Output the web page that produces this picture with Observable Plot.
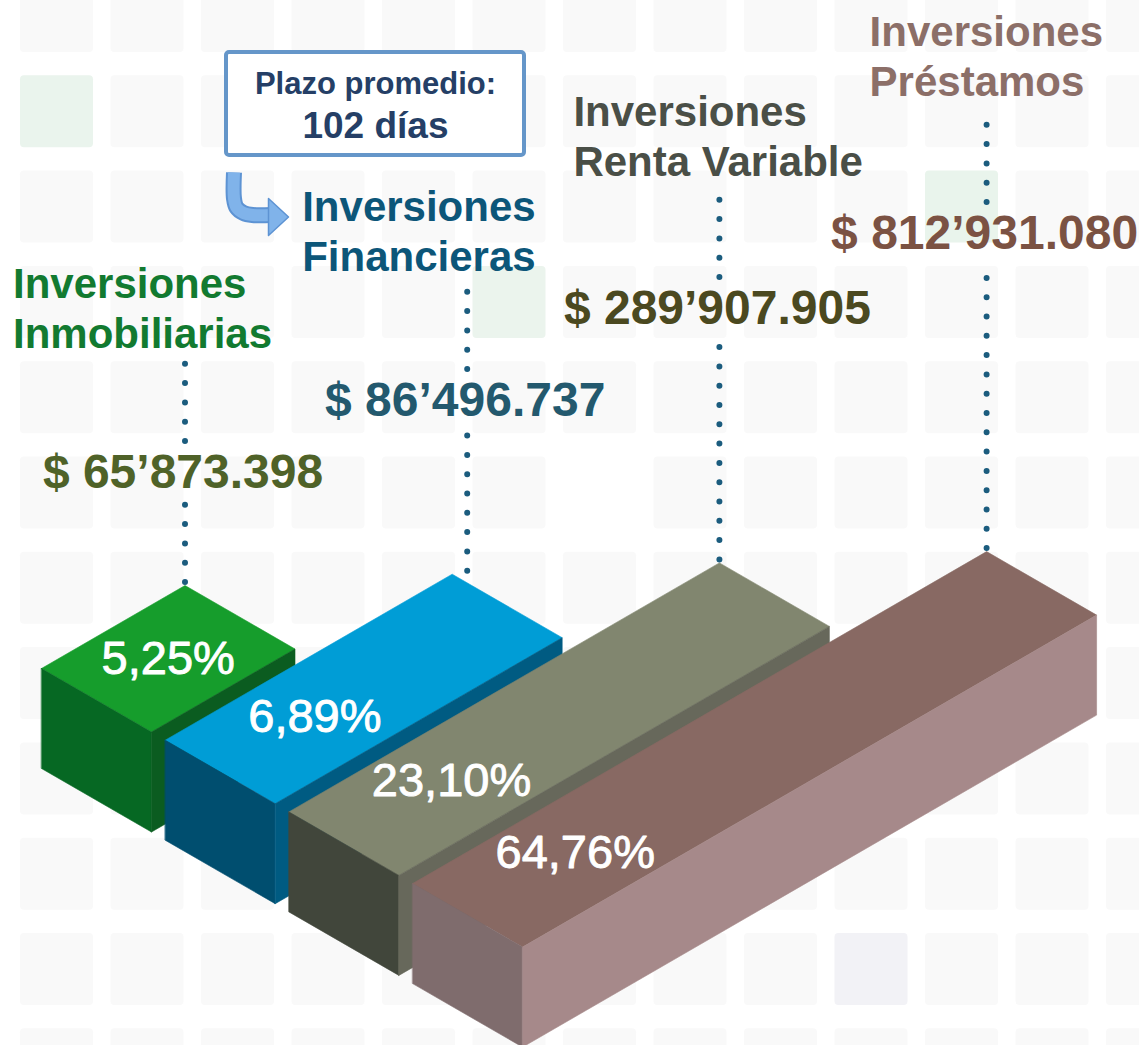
<!DOCTYPE html>
<html><head><meta charset="utf-8">
<script src="https://cdn.jsdelivr.net/npm/d3@7"></script>
<script src="https://cdn.jsdelivr.net/npm/@observablehq/plot@0.6"></script>
<style>html,body{margin:0;padding:0;background:#fff;overflow:hidden}#chart svg{display:block}</style>
</head><body><div id="chart"></div>
<script>
// ---------- DATA ----------
const categories = ["Inversiones\nInmobiliarias", "Inversiones\nFinancieras", "Inversiones\nRenta Variable", "Inversiones\nPréstamos"];
const amounts = [65873398, 86496737, 289907905, 812931080];
const shares = [5.25, 6.89, 23.10, 64.76];
const averageTermLabel = "Plazo promedio:";
const averageTermDays = 102; // applies to Inversiones Financieras

// ---------- STYLE / LAYOUT ----------
const W = 1139, H = 1045;
const topColors   = ["#169d2c", "#009dd6", "#81866f", "#886963"];
const frontColors = ["#066823", "#004e6f", "#41463b", "#7f6c6d"];
const sideColors  = ["#0b5c20", "#005b82", "#67685b", "#a6898a"];
const catColors   = ["#127a30", "#0c5679", "#4a4f47", "#8c6f68"];
const valColors   = ["#4f6228", "#23596e", "#4b4920", "#7b5243"];
const dotColor = "#1b5c7e";

const origin = [41, 668];     // left-top corner of the first bar
const lenVec = [143.5, -83];  // one rank step along the bar length
const widVec = [110, 63.5];   // bar width
const stepVec = [123.7, 71.7];// offset between consecutive bars
const boxH = 100;             // vertical thickness
const lineDx = [0, 15, 0, 0];
const catDx = [-172, -165, -146, -117];
const catBase = [347, 270, 175, 95];
const valBase = [487, 415, 323, 248];
const pctAlong = [0.5, 0.66, 0.75, 0.75];

// ---------- HELPERS ----------
const pad3 = n => String(n).padStart(3, "0");
const fmtMoney = v => `$ ${Math.floor(v / 1e6)}’${pad3(Math.floor((v % 1e6) / 1000))}.${pad3(v % 1000)}`;
const fmtPct = v => v.toFixed(2).replace(".", ",") + "%";
const order = d3.range(amounts.length).sort((a, b) => amounts[a] - amounts[b]);
const lengths = amounts.map((_, i) => order.indexOf(i) + 1);
const proj = (i, l, w, h) => ({
  x: origin[0] + i * stepVec[0] + l * lenVec[0] + w * widVec[0],
  y: origin[1] + i * stepVec[1] + l * lenVec[1] + w * widVec[1] + h
});

const idx = d3.range(amounts.length);
const faces = [];
idx.forEach(i => {
  const L = lengths[i];
  faces.push({color: topColors[i], pts: [proj(i,0,0,0), proj(i,L,0,0), proj(i,L,1,0), proj(i,0,1,0)]});
  faces.push({color: frontColors[i], pts: [proj(i,0,0,0), proj(i,0,1,0), proj(i,0,1,boxH), proj(i,0,0,boxH)]});
  faces.push({color: sideColors[i], pts: [proj(i,0,1,0), proj(i,L,1,0), proj(i,L,1,boxH), proj(i,0,1,boxH)]});
});

const apex = idx.map(i => proj(i, lengths[i], 0, 0));
const lineX = idx.map(i => apex[i].x + lineDx[i]);
const dots = [];
idx.forEach(i => {
  dots.push({x: lineX[i], y1: apex[i].y - 3, y2: valBase[i] + 11});
  dots.push({x: lineX[i], y1: valBase[i] - 46, y2: catBase[i] + 13});
});
const pctPos = idx.map(i => proj(i, pctAlong[i], 0.5, 0));

// background grid of soft squares
const grid = [];
const tints = {"0,1": "#eaf4ed", "5,3": "#ebf4ed", "10,2": "#e9f4ec", "9,10": "#f2f2f6", "6,5": null};
for (let c = 0; c < 13; c++) for (let r = 0; r < 12; r++) {
  const key = `${c},${r}`;
  if (key in tints && tints[key] === null) continue;
  const x1 = 20 + c * 90.5, y1 = -20 + r * 95.3;
  grid.push({x1, x2: x1 + 73, y1, y2: y1 + 72, fill: tints[key] || "#f9f9f9"});
}

// annotation box & arrow
const box = [{x1: 226, x2: 524, y1: 52, y2: 155}];
const arrowPath = [{x: 233.5, y: 172}, {x: 233.5, y: 198}, {x: 236, y: 207}, {x: 243, y: 212.5}, {x: 252, y: 214.5}, {x: 271, y: 214.5}];
const arrowHead = [{x: 268, y: 198}, {x: 288, y: 216.5}, {x: 268, y: 235}];

const font = "'Liberation Sans', Arial, Helvetica, sans-serif";

const plot = Plot.plot({
  width: W, height: H, margin: 0,
  x: {domain: [0, W], range: [0, W], axis: null},
  y: {domain: [0, H], range: [0, H], axis: null},
  color: {type: "identity"},
  style: {background: "#ffffff", fontFamily: font},
  marks: [
    Plot.rect(grid, {x1: "x1", x2: "x2", y1: "y1", y2: "y2", fill: "fill", rx: 4}),
    ...faces.map(f => Plot.line(f.pts, {x: "x", y: "y", fill: f.color, stroke: f.color, strokeWidth: 0.6, curve: "linear-closed"})),
    Plot.ruleX(dots, {x: "x", y1: "y1", y2: "y2", stroke: dotColor, strokeWidth: 6, strokeDasharray: "0 19.3", strokeLinecap: "round"}),
    Plot.text(idx, {x: i => pctPos[i].x, y: i => pctPos[i].y, text: i => fmtPct(shares[i]), fill: "white", stroke: "white", strokeWidth: 0.9, fontSize: 47, textAnchor: "middle", lineAnchor: "middle"}),
    Plot.text(idx, {x: i => lineX[i] + catDx[i], y: i => catBase[i], text: i => categories[i], fill: i => catColors[i], fontSize: 42, fontWeight: "bold", textAnchor: "start", lineAnchor: "bottom", lineHeight: 1.19}),
    Plot.text(idx, {x: i => lineX[i] - 2, y: i => valBase[i], text: i => fmtMoney(amounts[i]), fill: i => valColors[i], fontSize: 48, fontWeight: "bold", textAnchor: "middle", lineAnchor: "bottom"}),
    Plot.rect(box, {x1: "x1", x2: "x2", y1: "y1", y2: "y2", fill: "white", stroke: "#6596c9", strokeWidth: 4, rx: 3}),
    Plot.text([averageTermLabel], {x: 375, y: 93, text: d => d, fill: "#253f66", fontSize: 31, fontWeight: "bold", textAnchor: "middle", lineAnchor: "bottom"}),
    Plot.text([averageTermDays], {x: 375, y: 137, text: d => `${d} días`, fill: "#253f66", fontSize: 37, fontWeight: "bold", textAnchor: "middle", lineAnchor: "bottom"}),
    Plot.line(arrowPath, {x: "x", y: "y", stroke: "#5d93d3", strokeWidth: 16, curve: "catmull-rom", strokeLinecap: "butt"}),
    Plot.line(arrowPath, {x: "x", y: "y", stroke: "#80b3ea", strokeWidth: 12, curve: "catmull-rom", strokeLinecap: "butt"}),
    Plot.line(arrowHead, {x: "x", y: "y", fill: "#80b3ea", stroke: "#5d93d3", strokeWidth: 1.5, curve: "linear-closed"})
  ]
});
document.getElementById("chart").appendChild(plot);
</script>
</body></html>
